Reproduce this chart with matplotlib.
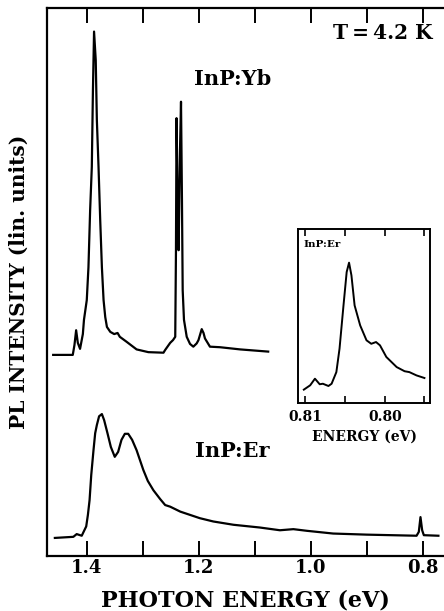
import matplotlib
matplotlib.use('Agg')
import matplotlib.pyplot as plt

plt.rcParams['font.family'] = ['DejaVu Serif']
plt.rcParams['font.weight'] = 'bold'

# InP:Yb spectrum, photon energy (eV) vs intensity (arb.)
yb_energy = [1.460, 1.425, 1.422, 1.419, 1.416, 1.412, 1.407, 1.405, 1.400, 1.397,
             1.394, 1.391, 1.389, 1.387, 1.384, 1.382, 1.379, 1.376, 1.373, 1.370,
             1.367, 1.364, 1.358, 1.351, 1.345, 1.341, 1.329, 1.311, 1.290, 1.263,
             1.260, 1.251, 1.246, 1.242, 1.2407, 1.2397, 1.2378, 1.236, 1.2335, 1.2317,
             1.230, 1.2287, 1.2264, 1.2215, 1.2156, 1.2097, 1.2037, 1.2005, 1.1947, 1.1915,
             1.1889, 1.180, 1.162, 1.126, 1.076]
yb_intensity = [3.67, 3.67, 3.85, 4.12, 3.89, 3.78, 4.05, 4.31, 4.67, 5.27,
                6.31, 7.10, 8.50, 9.57, 9.05, 7.96, 7.10, 6.13, 5.27, 4.67,
                4.36, 4.18, 4.09, 4.05, 4.07, 4.00, 3.91, 3.77, 3.72, 3.71,
                3.76, 3.89, 3.94, 4.00, 5.58, 7.99, 6.50, 5.58, 7.41, 8.29,
                6.50, 4.85, 4.31, 4.00, 3.87, 3.82, 3.88, 3.94, 4.14, 4.07,
                3.97, 3.82, 3.81, 3.77, 3.73]

# InP:Er spectrum
er_energy = [1.457, 1.424, 1.418, 1.409, 1.401, 1.398, 1.395, 1.392, 1.388, 1.385,
             1.382, 1.378, 1.373, 1.369, 1.363, 1.357, 1.350, 1.344, 1.338, 1.332,
             1.326, 1.319, 1.311, 1.305, 1.299, 1.291, 1.281, 1.269, 1.260, 1.251,
             1.233, 1.198, 1.174, 1.138, 1.091, 1.055, 1.031, 1.007, 0.960, 0.900,
             0.811, 0.807, 0.804, 0.801, 0.798, 0.772]
er_intensity = [0.33, 0.35, 0.40, 0.37, 0.54, 0.75, 1.02, 1.48, 1.93, 2.24,
                2.39, 2.55, 2.59, 2.48, 2.24, 1.99, 1.81, 1.90, 2.12, 2.23,
                2.23, 2.12, 1.93, 1.75, 1.57, 1.37, 1.20, 1.04, 0.93, 0.90,
                0.81, 0.69, 0.63, 0.57, 0.52, 0.47, 0.49, 0.46, 0.41, 0.39,
                0.37, 0.44, 0.71, 0.47, 0.38, 0.37]

# inset: InP:Er line near 0.805 eV
inset_energy = [0.8102, 0.8094, 0.8088, 0.8082, 0.8078, 0.8071, 0.8067, 0.8061, 0.8057, 0.8052,
                0.8048, 0.8045, 0.8042, 0.8038, 0.8031, 0.8023, 0.8017, 0.8011, 0.8006, 0.7998,
                0.7985, 0.7975, 0.7969, 0.7960, 0.7950]
inset_intensity = [0.77, 1.02, 1.40, 1.08, 1.11, 0.98, 1.11, 1.78, 3.13, 5.62,
                   7.54, 8.08, 7.35, 5.62, 4.47, 3.61, 3.41, 3.51, 3.32, 2.65,
                   2.07, 1.83, 1.78, 1.59, 1.44]

main_ticks = [1.4, 1.2, 1.0, 0.8]
main_minor = [1.3, 1.1, 0.9]
inset_ticks = [0.81, 0.80]
inset_minor = [0.805, 0.795]

fig = plt.figure(figsize=(4.44, 6.11), dpi=100)
ax = fig.add_axes([0.1059, 0.0900, 0.8941, 0.8969])

ax.plot(yb_energy, yb_intensity, color='black', lw=1.6)
ax.plot(er_energy, er_intensity, color='black', lw=1.6)
ax.set_xlim(1.471, 0.762)
ax.set_ylim(0, 10)
ax.set_xticks(main_ticks)
ax.set_xticklabels(['1.4', '1.2', '1.0', '0.8'])
ax.set_xticks(main_minor, minor=True)
ax.set_yticks([])
ax.tick_params(axis='x', which='both', direction='in', top=True, bottom=True,
               length=11, width=1.4, labelsize=13, pad=2)
ax.spines['right'].set_visible(False)
for side in ['left', 'top', 'bottom']:
    ax.spines[side].set_linewidth(1.6)

ax.set_xlabel('PHOTON ENERGY (eV)', fontsize=16, fontweight='bold', labelpad=9)
ax.set_ylabel('PL INTENSITY (lin. units)', fontsize=14.5, fontweight='bold', labelpad=13)

ax.text(0.97, 0.972, 'T\u2009=\u20094.2 K', transform=ax.transAxes, ha='right', va='top',
        fontsize=14.5, fontweight='bold')
ax.text(1.208, 8.7, 'InP:Yb', ha='left', va='center', fontsize=15, fontweight='bold')
ax.text(1.206, 1.92, 'InP:Er', ha='left', va='center', fontsize=15, fontweight='bold')

ins = fig.add_axes([0.6718, 0.3404, 0.2966, 0.2843])
ins.plot(inset_energy, inset_intensity, color='black', lw=1.4)
ins.set_xlim(0.8109, 0.7943)
ins.set_ylim(0, 10)
ins.set_xticks(inset_ticks)
ins.set_xticklabels(['0.81', '0.80'])
ins.set_xticks(inset_minor, minor=True)
ins.set_yticks([])
ins.tick_params(axis='x', which='both', direction='in', top=True, bottom=True,
                length=5, width=1.2, labelsize=10, pad=5)
for side in ins.spines.values():
    side.set_linewidth(1.4)
ins.set_xlabel('ENERGY (eV)', fontsize=10, fontweight='bold', labelpad=4)
ins.text(0.04, 0.94, 'InP:Er', transform=ins.transAxes, ha='left', va='top',
         fontsize=7.5, fontweight='bold')

fig.savefig('out.png', dpi=100)
